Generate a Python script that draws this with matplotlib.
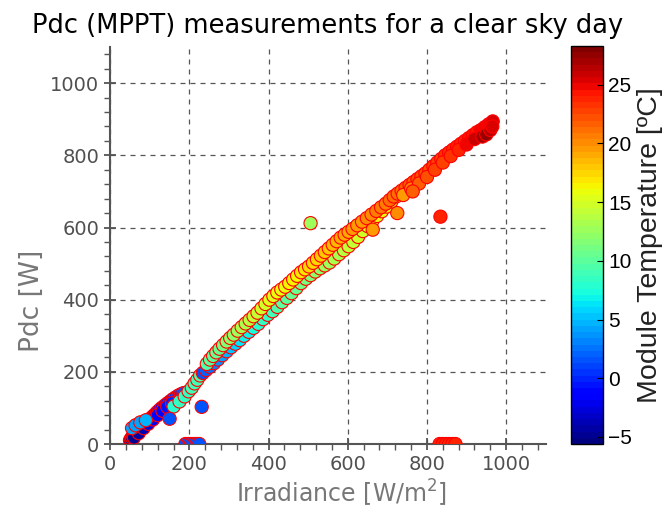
import numpy as np
import matplotlib
matplotlib.use("Agg")
import matplotlib.pyplot as plt
from matplotlib.ticker import MultipleLocator

# ---- data: irradiance [W/m2], Pdc [W], module temp [C]
# cold morning branch (low irradiance)
morning_g = [50, 52, 55, 58, 62, 66, 70, 75, 80, 85, 90, 95, 100, 106, 112, 118, 124,
             130, 137, 144, 151, 158, 165, 172, 179, 185,
             60, 72, 84, 96, 108, 120, 132, 144, 156]
morning_p = [10, 14, 18, 22, 27, 31, 36, 41, 47, 53, 58, 63, 69, 75, 81, 88, 94,
             100, 106, 112, 118, 124, 129, 134, 138, 141,
             18, 30, 44, 56, 68, 80, 92, 103, 113]
morning_t = [-5.5, -5.5, -5.3, -5.0, -4.8, -4.5, -4.2, -4.0, -3.6, -3.3, -3.0, -2.7, -2.4,
             -2.1, -1.8, -1.5, -1.2, -0.9, -0.6, -0.3, 0.0, 0.3, 0.6, 0.9, 1.2, 1.5,
             -5.0, -4.3, -3.6, -2.9, -2.2, -1.6, -1.0, -0.5, 0.0]

# evening points at low irradiance
evening_g = [55, 64, 76, 90, 160, 175, 188, 198, 206, 213, 220, 227]
evening_p = [44, 52, 60, 66, 104, 118, 132, 146, 156, 168, 178, 190]
evening_t = [4.0, 4.2, 4.4, 4.6, 8.0, 8.2, 8.4, 8.6, 8.8, 9.0, 9.2, 9.4]

# lower branch (morning, rising temperature)
lower_g = [234, 242, 252, 262, 272, 283, 294, 305, 316, 327, 338, 350, 362, 374, 386,
           398, 410, 422, 434, 446, 458, 470, 482, 494, 506, 518, 530, 542, 554, 566,
           578, 590, 602, 614, 626, 638, 650, 662, 674, 686, 698, 710, 722, 734]
lower_p = [197, 205, 214, 224, 234, 246, 257, 268, 278, 288, 300, 311, 322, 333, 346,
           358, 368, 380, 393, 405, 418, 432, 446, 458, 468, 478, 487, 495, 503, 514,
           526, 537, 548, 560, 574, 590, 604, 618, 632, 645, 658, 672, 686, 698]
lower_t = [1.5, 2.0, 2.5, 3.0, 3.5, 4.0, 4.6, 5.1, 5.6, 6.1, 6.6, 7.0, 7.4, 7.8, 8.2,
           8.6, 9.0, 9.4, 9.8, 10.1, 10.4, 10.7, 11.0, 11.3, 11.6, 11.9, 12.2, 12.5, 12.8, 13.1,
           13.4, 13.7, 14.0, 14.3, 14.6, 15.0, 15.3, 15.5, 15.7, 15.9, 16.2, 16.5, 16.8, 17.2]

# upper branch (afternoon, warmer module)
upper_g = [244, 252, 260, 268, 276, 285, 294, 303, 312, 322, 332, 342, 352, 362, 372,
           382, 392, 402, 412, 422, 432, 442, 452, 462, 472, 482, 492, 502, 512, 522,
           532, 542, 552, 562, 572, 582, 592, 602, 612, 624, 636, 648, 660, 672, 684]
upper_p = [222, 234, 244, 254, 264, 274, 284, 294, 303, 314, 324, 334, 344, 354, 364,
           376, 388, 400, 410, 420, 428, 436, 446, 456, 466, 476, 484, 492, 502, 512,
           522, 532, 542, 552, 562, 572, 580, 588, 596, 606, 616, 626, 636, 646, 656]
upper_t = [9.6, 9.9, 10.2, 10.5, 10.8, 11.1, 11.5, 11.9, 12.2, 12.6, 13.0, 13.3, 13.6, 14.0, 14.3,
           14.6, 14.9, 15.2, 15.4, 15.6, 15.8, 16.0, 16.2, 16.4, 16.6, 16.8, 17.0, 17.2, 17.4, 17.6,
           17.8, 18.0, 18.2, 18.4, 18.6, 18.8, 19.0, 19.2, 19.4, 19.6, 19.8, 20.0, 20.2, 20.4, 20.6]

# high irradiance (midday)
high_g = [696, 706, 716, 726, 736, 746, 756, 766, 776, 786, 796, 806, 816, 826, 836,
          846, 856, 866, 876, 886, 896, 906, 916, 926, 936, 946, 956, 966,
          740, 760, 780, 800, 820, 840, 860, 880, 900, 920, 940, 950, 960, 965]
high_p = [666, 676, 686, 694, 702, 710, 718, 726, 734, 742, 750, 760, 770, 780, 790,
          800, 808, 816, 824, 832, 840, 848, 856, 864, 870, 878, 886, 894,
          690, 708, 722, 740, 760, 780, 798, 815, 830, 845, 852, 858, 870, 880]
high_t = [20.8, 21.0, 21.0, 21.2, 21.3, 21.5, 21.6, 21.8, 22.0, 22.1, 22.3, 22.4, 22.6, 22.8, 22.9,
          23.1, 23.3, 23.4, 23.6, 23.8, 24.0, 24.1, 24.3, 24.5, 24.6, 24.8, 25.0, 25.2,
          19.8, 20.5, 21.5, 22.0, 22.5, 23.0, 23.5, 24.0, 25.0, 26.0, 27.0, 27.5, 26.5, 25.5]

# outliers and zero-power points
odd_g = [150, 231, 506, 663, 725, 764, 834,
         190, 197, 204, 211, 218, 225, 832, 840, 848, 856, 864, 872]
odd_p = [70, 103, 612, 594, 640, 700, 630,
         0, 0, 0, 0, 0, 0, 0, 0, 0, 0, 0, 0]
odd_t = [1.5, 1.8, 12.5, 19.5, 20.0, 21.5, 24.0,
         1.5, 1.5, 1.5, 1.5, 1.5, 1.5, 24.0, 24.0, 24.0, 24.0, 24.0, 24.0]

g = np.array(morning_g + evening_g + lower_g + upper_g + high_g + odd_g)
p = np.array(morning_p + evening_p + lower_p + upper_p + high_p + odd_p)
t = np.array(morning_t + evening_t + lower_t + upper_t + high_t + odd_t)

fig = plt.figure(figsize=(6.68, 5.23), dpi=100)
ax = fig.add_axes([0.165, 0.151, 0.652, 0.759])
cax = fig.add_axes([0.855, 0.151, 0.048, 0.761])

cmap = plt.get_cmap("jet", 64)
sc = ax.scatter(g, p, c=t, cmap=cmap, vmin=-5.6, vmax=28.3, s=90,
                edgecolors="red", linewidths=0.8, zorder=3)

ax.set_xlim(0, 1100)
ax.set_ylim(0, 1100)
ax.xaxis.set_major_locator(MultipleLocator(200))
ax.yaxis.set_major_locator(MultipleLocator(200))
ax.xaxis.set_minor_locator(MultipleLocator(40))
ax.yaxis.set_minor_locator(MultipleLocator(40))
ax.grid(True, which="major", color="#555555", linestyle=(0, (4, 4)), linewidth=0.9)
ax.set_axisbelow(True)

for s in ["top", "right"]:
    ax.spines[s].set_visible(False)
for s in ["left", "bottom"]:
    ax.spines[s].set_color("#555555")
    ax.spines[s].set_linewidth(1.5)

ax.tick_params(which="major", direction="inout", length=9, width=1.3,
               colors="#555555", labelsize=14, labelcolor="#505050")
ax.tick_params(which="minor", direction="out", length=4, width=1.0, colors="#555555")

ax.set_xlabel("Irradiance [W/m$^2$]", fontsize=17, color="#777777")
ax.set_ylabel("Pdc [W]", fontsize=19, color="#777777")
ax.xaxis.set_label_coords(0.53, -0.085)
ax.yaxis.set_label_coords(-0.15, 0.36)
ax.set_title("Pdc (MPPT) measurements for a clear sky day", fontsize=18.5, pad=10)

cb = fig.colorbar(sc, cax=cax)
cb.set_ticks([-5, 0, 5, 10, 15, 20, 25])
cb.outline.set_linewidth(1.0)
cb.ax.tick_params(labelsize=15, length=4, direction="in")
for lab in cb.ax.get_yticklabels():
    lab.set_family("Liberation Sans")
cb.set_label("Module Temperature [ºC]", fontsize=20.5, family="Liberation Sans",
             color="#222222", labelpad=4)

fig.savefig("out.png", dpi=100)
